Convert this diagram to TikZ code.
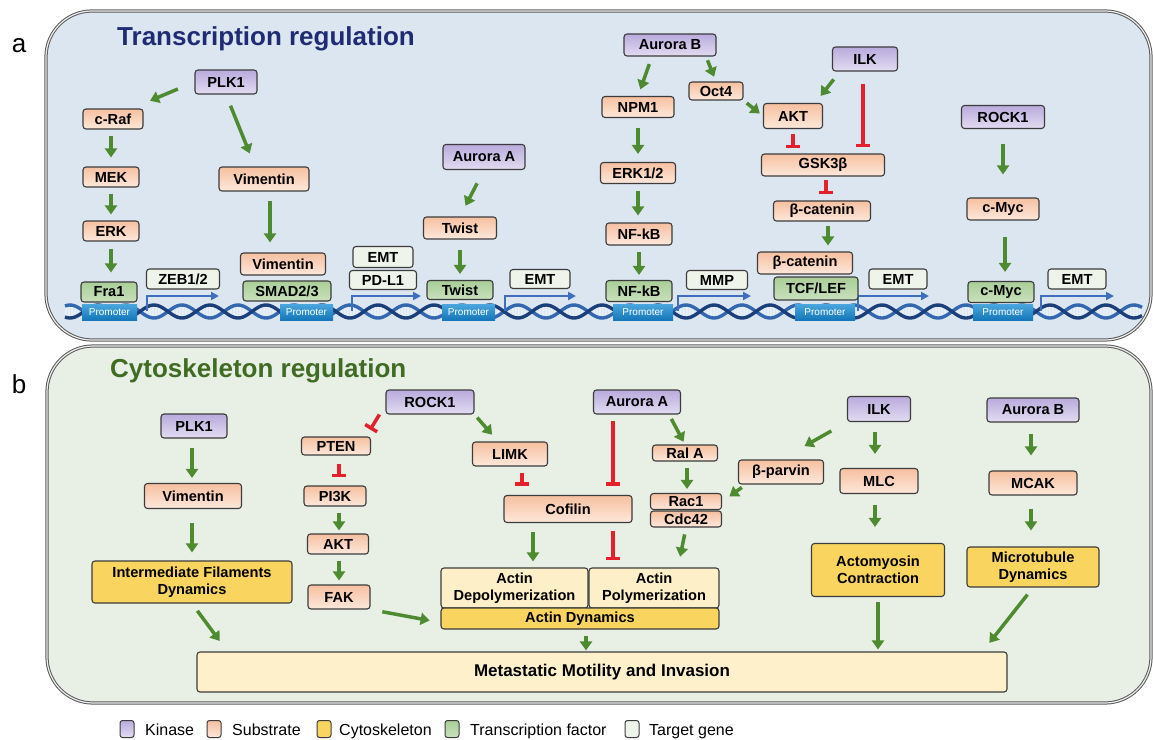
\documentclass[tikz,border=0pt]{standalone}
\usepackage{fontspec}
\setmainfont{Liberation Sans}
\usetikzlibrary{arrows.meta,shadings,calc}
\definecolor{bgA}{HTML}{DCE6F1}
\definecolor{bgB}{HTML}{E8EFE5}
\definecolor{pborder}{HTML}{5A5A5A}
\definecolor{boxborder}{HTML}{3C3C3C}
\definecolor{kinT}{HTML}{B9ABDD}
\definecolor{kinB}{HTML}{E2DCF1}
\definecolor{subT}{HTML}{F6C0A0}
\definecolor{subB}{HTML}{FDE8DB}
\definecolor{tfT}{HTML}{A9CE97}
\definecolor{tfB}{HTML}{C9E1BD}
\definecolor{tgC}{HTML}{EEF4EA}
\definecolor{cytoC}{HTML}{F9D55F}
\definecolor{liteC}{HTML}{FDF0C8}
\definecolor{metaC}{HTML}{FDF0CA}
\definecolor{garrow}{HTML}{4E8A2F}
\definecolor{rinh}{HTML}{E3202B}
\definecolor{navy}{HTML}{1F2C73}
\definecolor{gtitle}{HTML}{3F6B23}
\definecolor{dnaD}{HTML}{1B3F78}
\definecolor{dnaL}{HTML}{3368AE}
\definecolor{rungC}{HTML}{E6EEF8}
\definecolor{promT}{HTML}{4AA6DC}
\definecolor{promB}{HTML}{1577BA}
\definecolor{tssC}{HTML}{3F6EC0}
\tikzset{
  sz/.style n args={2}{minimum width=#1pt, minimum height=#2pt},
  box/.style={draw=boxborder, line width=1.1pt, rounded corners=3pt, inner sep=0pt,
    font=\fontsize{14.6}{16.5}\selectfont\bfseries, text=black, align=center},
  kin/.style={box, top color=kinT, bottom color=kinB},
  sub/.style={box, top color=subT, bottom color=subB},
  tf/.style={box, top color=tfT, bottom color=tfB},
  tg/.style={box, fill=tgC},
  cyto/.style={box, fill=cytoC},
  lite/.style={box, fill=liteC},
  meta/.style={box, fill=metaC},
  ga/.style={draw=garrow, line width=3.5pt, -{Triangle[width=12pt,length=9pt]}},
  ri/.style={draw=rinh, line width=3.5pt, -{Bar[width=14pt]}},
  prom/.style={top color=promT, bottom color=promB, draw=none, inner sep=0pt,
    font=\fontsize{10}{10}\selectfont, text=white},
  tss/.style={draw=tssC, line width=2pt, -{Triangle[width=8pt,length=8pt]}},
  panel/.style={draw=pborder, line width=1pt, double=white!85!gray, double distance=1.2pt, rounded corners=46pt},
  legsq/.style={draw=boxborder, line width=1pt, rounded corners=2.5pt, minimum width=14pt, minimum height=17pt, inner sep=0pt},
  legtx/.style={anchor=base west, font=\fontsize{16}{18}\selectfont, inner sep=0pt}
}
\begin{document}
\begin{tikzpicture}[x=1pt,y=-1pt]
\useasboundingbox (0,0) rectangle (1153,739);
% panels
\fill[bgA, rounded corners=46pt] (46,11) rectangle (1151,340);
\draw[panel] (46,11) rectangle (1151,340);
\fill[bgB, rounded corners=46pt] (47,346) rectangle (1151,703);
\draw[panel] (47,346) rectangle (1151,703);
\node[font=\fontsize{26}{28}\selectfont] (la) at (19,46) {a};
\node[font=\fontsize{26}{28}\selectfont] (lb) at (19,384) {b};
\node[anchor=base west, inner sep=0pt, font=\fontsize{26}{28}\selectfont\bfseries, text=navy] (ta) at (117,45) {Transcription regulation};
\node[anchor=base west, inner sep=0pt, font=\fontsize{26}{28}\selectfont\bfseries, text=gtitle] (tb) at (110,377) {Cytoskeleton regulation};
% DNA
\foreach \x in {66,69,...,1140}{
  \draw[rungC, line width=1.5pt] (\x,{311.5+6.5*sin(\x*6.42857)}) -- (\x,{311.5-6.5*sin(\x*6.42857)});
}
\draw[dnaL, line width=3.4pt] plot[domain=65:1142, samples=500] (\x,{311.5-6.5*sin(\x*6.42857)});
\draw[dnaD, line width=3.4pt] plot[domain=65:1142, samples=500] (\x,{311.5+6.5*sin(\x*6.42857)});
% promoters
\node[prom, sz={55}{16}] (pr1) at (109.5,312) {Promoter};
\node[prom, sz={53}{16}] (pr2) at (306.5,312) {Promoter};
\node[prom, sz={53}{16}] (pr3) at (468.5,312) {Promoter};
\node[prom, sz={60}{16}] (pr4) at (643,312) {Promoter};
\node[prom, sz={60}{16}] (pr5) at (825,312) {Promoter};
\node[prom, sz={60}{16}] (pr6) at (1003,312) {Promoter};
% TSS bent arrows
\coordinate (s1) at (147,311); \coordinate (e1) at (219,296);
\coordinate (s2) at (352,311); \coordinate (e2) at (421,296);
\coordinate (s3) at (505,311); \coordinate (e3) at (576,296);
\coordinate (s4) at (678,311); \coordinate (e4) at (751,296);
\coordinate (s5) at (858,311); \coordinate (e5) at (929,296);
\coordinate (s6) at (1041,311); \coordinate (e6) at (1114,296);
\foreach \i in {1,...,6}{ \draw[tss] (s\i) |- (e\i); }
% ---------- panel a nodes
\node[kin, sz={62}{24}] (plk1) at (226,82) {PLK1};
\node[sub, sz={60}{20}] (craf) at (113,119) {c-Raf};
\node[sub, sz={56}{20}] (mek) at (111,177) {MEK};
\node[sub, sz={56}{20}] (erk) at (111,231) {ERK};
\node[tf, sz={56}{20}] (fra1) at (109,292) {Fra1};
\node[tg, sz={73}{20}] (zeb) at (183,279) {ZEB1/2};
\node[sub, sz={90}{24}] (vim1) at (264,179) {Vimentin};
\node[sub, sz={85}{22}] (vim2) at (283,264) {Vimentin};
\node[tf, sz={88}{20}] (smad) at (287,291) {SMAD2/3};
\node[tg, sz={60}{21}] (emt1) at (383,257) {EMT};
\node[tg, sz={67}{19}] (pdl1) at (383,280) {PD-L1};
\node[kin, sz={82}{25}] (aura) at (484,157) {Aurora A};
\node[sub, sz={73}{22}] (twist1) at (460,228) {Twist};
\node[tf, sz={66}{19}] (twist2) at (460,290) {Twist};
\node[tg, sz={60}{19}] (emt2) at (540,279) {EMT};
\node[kin, sz={92}{22}] (aurb) at (670,45) {Aurora B};
\node[sub, sz={72}{21}] (npm1) at (638,107) {NPM1};
\node[sub, sz={54}{18}] (oct4) at (716,91) {Oct4};
\node[sub, sz={75}{21}] (erk12) at (638,173) {ERK1/2};
\node[sub, sz={66}{22}] (nfkb1) at (639,234) {NF-kB};
\node[tf, sz={66}{21}] (nfkb2) at (639,291) {NF-kB};
\node[tg, sz={61}{19}] (mmp) at (717,280) {MMP};
\node[kin, sz={65}{24}] (ilk) at (865,59) {ILK};
\node[sub, sz={59}{25}] (akt) at (793,116) {AKT};
\node[sub, sz={123}{22}] (gsk) at (823,165) {GSK3β};
\node[sub, sz={97}{20}] (bcat1) at (822,211) {β-catenin};
\node[sub, sz={95}{22}] (bcat2) at (805,263) {β-catenin};
\node[tf, sz={84}{23}] (tcf) at (816,288.5) {TCF/LEF};
\node[tg, sz={58}{20}] (emt3) at (898,279) {EMT};
\node[kin, sz={83}{23}] (rocka) at (1003,117) {ROCK1};
\node[sub, sz={72}{22}] (cmyc1) at (1003,209) {c-Myc};
\node[tf, sz={66}{21}] (cmyc2) at (1001,292) {c-Myc};
\node[tg, sz={58}{20}] (emt4) at (1077,279) {EMT};
% ---------- panel a connectors
\draw[ga, shorten <=18pt, shorten >=7pt] (plk1.west) -- ([yshift=5pt]craf.north east);
\draw[ga, shorten <=12pt, shorten >=14pt] (plk1.south) -- ([xshift=-9pt]vim1.north);
\draw[ga, shorten <=6pt, shorten >=9pt] (mek.north |- craf.south) -- (mek.north);
\draw[ga, shorten <=6pt, shorten >=6pt] (mek.south) -- (mek.south |- erk.north);
\draw[ga, shorten <=7pt, shorten >=9pt] (erk.south) -- (erk.south |- fra1.north);
\draw[ga, shorten <=9pt, shorten >=10pt] ([xshift=6pt]vim1.south) -- ([xshift=6pt]vim1.south |- vim2.north);
\draw[ga, shorten <=15pt, shorten >=12pt] (aura.south) -- (twist1.north);
\draw[ga, shorten <=10pt, shorten >=6pt] (twist1.south) -- (twist1.south |- twist2.north);
\draw[ga, shorten <=8pt, shorten >=7pt] ([xshift=-18pt]aurb.south) -- (npm1.north);
\draw[ga, shorten <=4pt, shorten >=5pt] ([xshift=36pt]aurb.south) -- (oct4.north);
\draw[ga, shorten <=4pt, shorten >=4pt] (oct4.south east) -- (akt.west);
\draw[ga, shorten <=10pt, shorten >=8pt] (npm1.south) -- (npm1.south |- erk12.north);
\draw[ga, shorten <=7pt, shorten >=7pt] (erk12.south) -- (erk12.south |- nfkb1.north);
\draw[ga, shorten <=6pt, shorten >=5pt] (nfkb1.south) -- (nfkb1.south |- nfkb2.north);
\draw[ga, shorten <=10pt, shorten >=9pt] ([xshift=8pt]ilk.south west) -- ([xshift=-8pt]akt.north east);
\draw[ri, shorten <=12pt, shorten >=6pt] ([xshift=-2pt]ilk.south) -- ([xshift=-2pt]ilk.south |- gsk.north);
\draw[ri, shorten <=4.5pt, shorten >=5pt] (akt.south) -- (akt.south |- gsk.north);
\draw[ri, shorten <=3pt, shorten >=6pt] ([xshift=3pt]gsk.south) -- ([xshift=3pt]gsk.south |- bcat1.north);
\draw[ga, shorten <=4pt, shorten >=6pt] ([xshift=6pt]bcat1.south) -- ([xshift=6pt]bcat1.south |- bcat2.north);
\draw[ga, shorten <=15pt, shorten >=23pt] (rocka.south) -- (rocka.south |- cmyc1.north);
\draw[ga, shorten <=16pt, shorten >=9pt] ([xshift=2pt]cmyc1.south) -- ([xshift=2pt]cmyc1.south |- cmyc2.north);
% ---------- panel b nodes
\node[kin, sz={66}{24}] (plk1b) at (194,426) {PLK1};
\node[sub, sz={97}{25}] (vimb) at (193,496) {Vimentin};
\node[cyto, sz={200}{42}] (ifd) at (192,582) {Intermediate Filaments\\Dynamics};
\node[kin, sz={88}{24}] (rockb) at (430,402) {ROCK1};
\node[sub, sz={69}{18}] (pten) at (336,446) {PTEN};
\node[sub, sz={62}{20}] (pi3k) at (335,496) {PI3K};
\node[sub, sz={61}{20}] (aktb) at (338,544) {AKT};
\node[sub, sz={62}{24}] (fak) at (339,597) {FAK};
\node[sub, sz={75}{24}] (limk) at (510,454) {LIMK};
\node[kin, sz={87}{24}] (aurab) at (637,402) {Aurora A};
\node[sub, sz={128}{27}] (cof) at (568,509) {Cofilin};
\node[sub, sz={65}{16}] (rala) at (685,453) {Ral A};
\node[sub, sz={71}{16}] (rac1) at (686,501.5) {Rac1};
\node[sub, sz={71}{16}] (cdc42) at (686,519) {Cdc42};
\node[sub, sz={85}{24}] (bparv) at (781,472) {β-parvin};
\node[lite, sz={147}{40}] (depol) at (514.5,588) {Actin\\Depolymerization};
\node[lite, sz={130}{40}] (pol) at (654,588) {Actin\\Polymerization};
\node[cyto, sz={278}{21}] (actd) at (580,618.5) {Actin Dynamics};
\node[kin, sz={63}{25}] (ilkb) at (879,409) {ILK};
\node[sub, sz={78}{25}] (mlc) at (879,481) {MLC};
\node[cyto, sz={133}{53}] (acto) at (878,570) {Actomyosin\\Contraction};
\node[kin, sz={92}{24}] (aurbb) at (1033,410) {Aurora B};
\node[sub, sz={88}{24}] (mcak) at (1033,483) {MCAK};
\node[cyto, sz={132}{40}] (micro) at (1033,567) {Microtubule\\Dynamics};
\node[meta, sz={810}{40}, font=\fontsize{17}{20}\selectfont\bfseries] (meta) at (602,672) {Metastatic Motility and Invasion};
% ---------- panel b connectors
\draw[ga, shorten <=9pt, shorten >=5pt] ([xshift=-2pt]plk1b.south) -- ([xshift=-2pt]plk1b.south |- vimb.north);
\draw[ga, shorten <=14pt, shorten >=8pt] ([xshift=-1pt]vimb.south) -- ([xshift=-1pt]vimb.south |- ifd.north);
\draw[ga, shorten <=9pt, shorten >=13pt] (ifd.south) -- ([xshift=31pt]meta.north west);
\draw[ga, shorten <=12pt, shorten >=11pt] (fak.south east) -- ([yshift=-4pt]actd.west);
\draw[ri, shorten >=8pt] ([xshift=-6pt]rockb.south west) -- ([xshift=-5pt]pten.north east);
\draw[ri, shorten <=8pt, shorten >=8pt] ([xshift=3pt]pten.south) -- ([xshift=3pt]pten.south |- pi3k.north);
\draw[ga, shorten <=6pt, shorten >=3pt] ([xshift=4pt]pi3k.south) -- ([xshift=4pt]pi3k.south |- aktb.north);
\draw[ga, shorten <=6pt, shorten >=4pt] ([xshift=1pt]aktb.south) -- ([xshift=1pt]aktb.south |- fak.north);
\draw[ga, shorten <=4pt, shorten >=9pt] (rockb.south east) -- ([xshift=-12pt]limk.north);
\draw[ri, shorten <=6pt, shorten >=9pt] ([xshift=12pt]limk.south) -- ([xshift=12pt]limk.south |- cof.north);
\draw[ri, shorten <=6pt, shorten >=9pt] ([xshift=-24pt]aurab.south) -- ([xshift=-24pt]aurab.south |- cof.north);
\draw[ga, shorten <=5pt, shorten >=3pt] ([xshift=32pt]aurab.south) -- (rala.north);
\draw[ga, shorten <=6pt, shorten >=4pt] ([xshift=2pt]rala.south) -- ([xshift=2pt]rala.south |- rac1.north);
\draw[ga, shorten <=5pt, shorten >=9pt] ([xshift=8pt]bparv.south west) -- (rac1.east);
\draw[ga, shorten <=18pt, shorten >=27pt] (ilkb.south west) -- (bparv.north);
\draw[ga, shorten <=9pt, shorten >=6pt] ([xshift=-35pt]cof.south) -- ([xshift=-35pt]cof.south |- depol.north);
\draw[ri, shorten <=8pt, shorten >=7pt] ([xshift=45pt]cof.south) -- ([xshift=45pt]cof.south |- pol.north);
\draw[ga, shorten <=7pt, shorten >=11pt] (cdc42.south) -- ([xshift=24pt]pol.north);
\draw[ga, shorten <=6pt, shorten >=1pt] ([xshift=6pt]actd.south) -- ([xshift=6pt]actd.south |- meta.north);
\draw[ga, shorten <=10pt, shorten >=14pt] ([xshift=-4pt]ilkb.south) -- ([xshift=-4pt]ilkb.south |- mlc.north);
\draw[ga, shorten <=11pt, shorten >=16pt] ([xshift=-4pt]mlc.south) -- ([xshift=-4pt]mlc.south |- acto.north);
\draw[ga, shorten <=5pt, shorten >=2pt] (acto.south) -- (acto.south |- meta.north);
\draw[ga, shorten <=11pt, shorten >=15pt] ([xshift=-2pt]aurbb.south) -- ([xshift=-2pt]aurbb.south |- mcak.north);
\draw[ga, shorten <=13pt, shorten >=16pt] ([xshift=-2pt]mcak.south) -- ([xshift=-2pt]mcak.south |- micro.north);
\draw[ga, shorten <=9pt, shorten >=11pt] (micro.south) -- ([xshift=-25pt]meta.north east);
% ---------- legend
\node[legsq, top color=kinT, bottom color=kinB] (lk) at (127,729) {};
\node[legtx] (lkt) at (145,735) {Kinase};
\node[legsq, top color=subT, bottom color=subB] (ls) at (214,729) {};
\node[legtx] (lst) at (232,735) {Substrate};
\node[legsq, fill=cytoC] (lc) at (324,729) {};
\node[legtx] (lct) at (339,735) {Cytoskeleton};
\node[legsq, top color=tfT, bottom color=tfB] (lf) at (452,729) {};
\node[legtx] (lft) at (470,735) {Transcription factor};
\node[legsq, fill=tgC] (lg) at (632,729) {};
\node[legtx] (lgt) at (649,735) {Target gene};
\end{tikzpicture}
\end{document}
